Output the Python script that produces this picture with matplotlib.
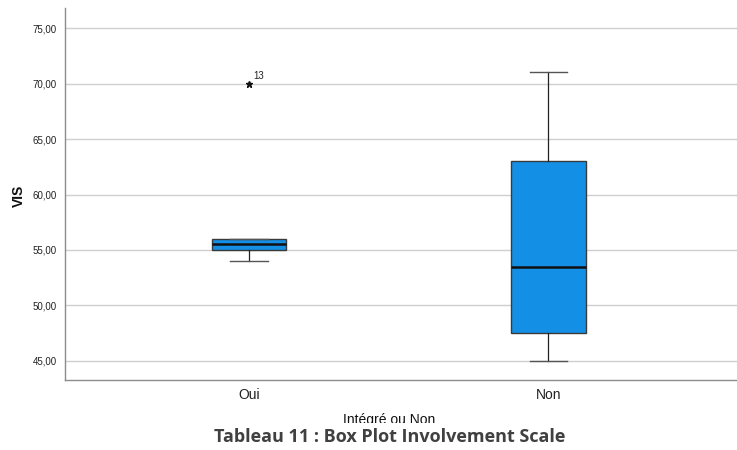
import matplotlib
matplotlib.use('Agg')
import matplotlib.pyplot as plt
from matplotlib.patches import Rectangle
from matplotlib.ticker import FuncFormatter

# box plot data
groups = ['Oui', 'Non']
q1 = [55.0, 47.5]
med = [55.5, 53.5]
q3 = [56.0, 63.0]
whislo = [54.0, 45.0]
whishi = [56.0, 71.0]
fliers = [[70.0], []]
flier_ids = [['13'], []]
yticks = [45, 50, 55, 60, 65, 70, 75]

plt.rcParams['font.family'] = ['Liberation Sans', 'DejaVu Sans']

fig = plt.figure(figsize=(7.37, 4.5), dpi=100)
ax = fig.add_axes([0.088, 0.156, 0.912, 0.826])

stats = []
for i, g in enumerate(groups):
    stats.append(dict(label=g, q1=q1[i], med=med[i], q3=q3[i],
                      whislo=whislo[i], whishi=whishi[i], fliers=fliers[i]))

ax.bxp(stats, positions=[1, 2], widths=0.25, patch_artist=True,
       boxprops=dict(facecolor='#1390e6', edgecolor='#3a3a3a', linewidth=1.0),
       medianprops=dict(color='#111111', linewidth=1.8),
       whiskerprops=dict(color='#222222', linewidth=0.9),
       capprops=dict(color='#555555', linewidth=1.0),
       capwidths=0.125,
       flierprops=dict(marker='*', markersize=4.5, markerfacecolor='#111111',
                       markeredgecolor='#111111'),
       zorder=3)

for i, vals in enumerate(fliers):
    for v, lab in zip(vals, flier_ids[i]):
        ax.annotate(lab, (i + 1, v), xytext=(3, 3), textcoords='offset points',
                    fontsize=7, color='#222222')

ax.set_xlim(0.385, 2.63)
ax.set_ylim(43.3, 76.8)
ax.set_yticks(yticks)
ax.yaxis.set_major_formatter(FuncFormatter(lambda v, p: ('%.2f' % v).replace('.', ',')))
ax.tick_params(axis='y', length=0, labelsize=7, pad=6, labelcolor='#222222')
ax.tick_params(axis='x', length=0, labelsize=10, pad=6, labelcolor='#222222')
ax.grid(axis='y', color='#cfcfcf', linewidth=1.0, zorder=0)
ax.set_axisbelow(True)
for s in ['top', 'right']:
    ax.spines[s].set_visible(False)
for s in ['left', 'bottom']:
    ax.spines[s].set_color('#8c8c8c')
    ax.spines[s].set_linewidth(1.0)

fig.text(0.026, 0.565, 'VIS', rotation=90, fontsize=10, fontweight='bold',
         ha='center', va='center', color='#111111')

# axis title, its bottom is cut off by the caption band
fig.text(0.528, 0.052, 'Intégré ou Non', fontsize=10, ha='center', va='bottom',
         color='#111111')
fig.patches.append(Rectangle((0, 0), 1, 0.059, transform=fig.transFigure,
                             facecolor='white', edgecolor='none', zorder=5))
fig.text(0.529, 0.029, 'Tableau 11 : Box Plot Involvement Scale', fontsize=13,
         fontweight='bold', ha='center', va='center', color='#404040',
         family=['Open Sans', 'DejaVu Sans'], zorder=6)

fig.savefig('out.png', dpi=100)
